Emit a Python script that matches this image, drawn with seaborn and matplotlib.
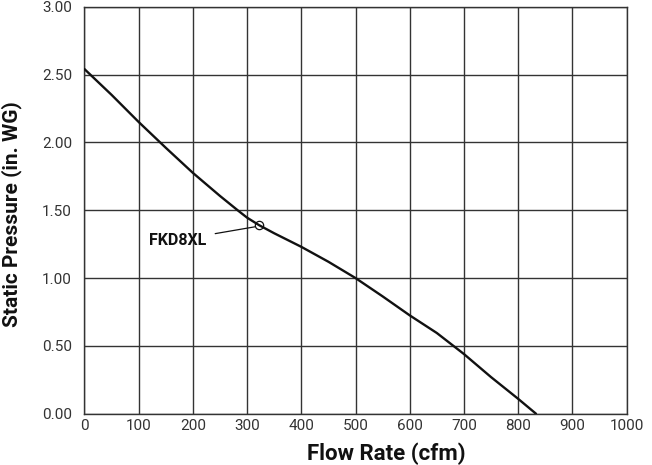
import matplotlib
matplotlib.use("Agg")
import matplotlib.pyplot as plt
import seaborn as sns
import pandas as pd

# Fan performance curve (flow rate vs. static pressure)
flow_cfm = [0, 50, 100, 150, 200, 250, 284, 300, 322, 350, 400, 450, 500,
            550, 600, 650, 700, 750, 800, 833]
pressure_wg = [2.54, 2.35, 2.15, 1.96, 1.775, 1.605, 1.495, 1.445, 1.39, 1.33,
               1.23, 1.12, 1.00, 0.865, 0.725, 0.595, 0.44, 0.27, 0.11, 0.00]

model_name = "FKD8XL"
rated_point = (322, 1.39)
label_pos = (225, 1.28)

x_ticks = [0, 100, 200, 300, 400, 500, 600, 700, 800, 900, 1000]
y_ticks = [0.0, 0.5, 1.0, 1.5, 2.0, 2.5, 3.0]
y_tick_labels = ["0.00", "0.50", "1.00", "1.50", "2.00", "2.50", "3.00"]

df = pd.DataFrame({"flow": flow_cfm, "pressure": pressure_wg})

sns.set_style("white")
plt.rcParams["font.family"] = ["Roboto", "DejaVu Sans"]

fig = plt.figure(figsize=(6.52, 4.65), dpi=100)
ax = fig.add_axes([0.1296, 0.1103, 0.9609 - 0.1296, 0.9856 - 0.1103])

sns.lineplot(data=df, x="flow", y="pressure", ax=ax, color="#111111",
             linewidth=1.7, zorder=3)

ax.plot([rated_point[0]], [rated_point[1]], marker="o", markersize=6,
        markerfacecolor="none", markeredgecolor="#111111",
        markeredgewidth=0.9, zorder=4)

ax.annotate(model_name, xy=(rated_point[0] - 7, rated_point[1] - 0.012),
            xytext=label_pos, ha="right", va="center",
            fontsize=11.5, fontweight="bold", color="#111111",
            arrowprops=dict(arrowstyle="-", color="#111111", lw=0.9,
                            shrinkA=4, shrinkB=0))

ax.set_xlim(0, 1000)
ax.set_ylim(0, 3.0)
ax.set_xticks(x_ticks)
ax.set_xticklabels([str(t) for t in x_ticks])
ax.set_yticks(y_ticks)
ax.set_yticklabels(y_tick_labels)

ax.grid(True, color="#333333", linewidth=1.0)
ax.set_axisbelow(True)
for s in ax.spines.values():
    s.set_color("#333333")
    s.set_linewidth(1.0)

ax.tick_params(axis="both", length=0, labelsize=11, colors="#333333")
ax.tick_params(axis="y", pad=9)
ax.tick_params(axis="x", pad=4)

ax.set_xlabel("Flow Rate (cfm)", fontsize=16, fontweight="bold",
              color="#111111")
ax.set_ylabel("Static Pressure (in. WG)", fontsize=15, fontweight="bold",
              color="#111111")
ax.xaxis.set_label_coords(0.556, -0.07)
ax.yaxis.set_label_coords(-0.115, 0.49)

fig.savefig("out.png", dpi=100)
